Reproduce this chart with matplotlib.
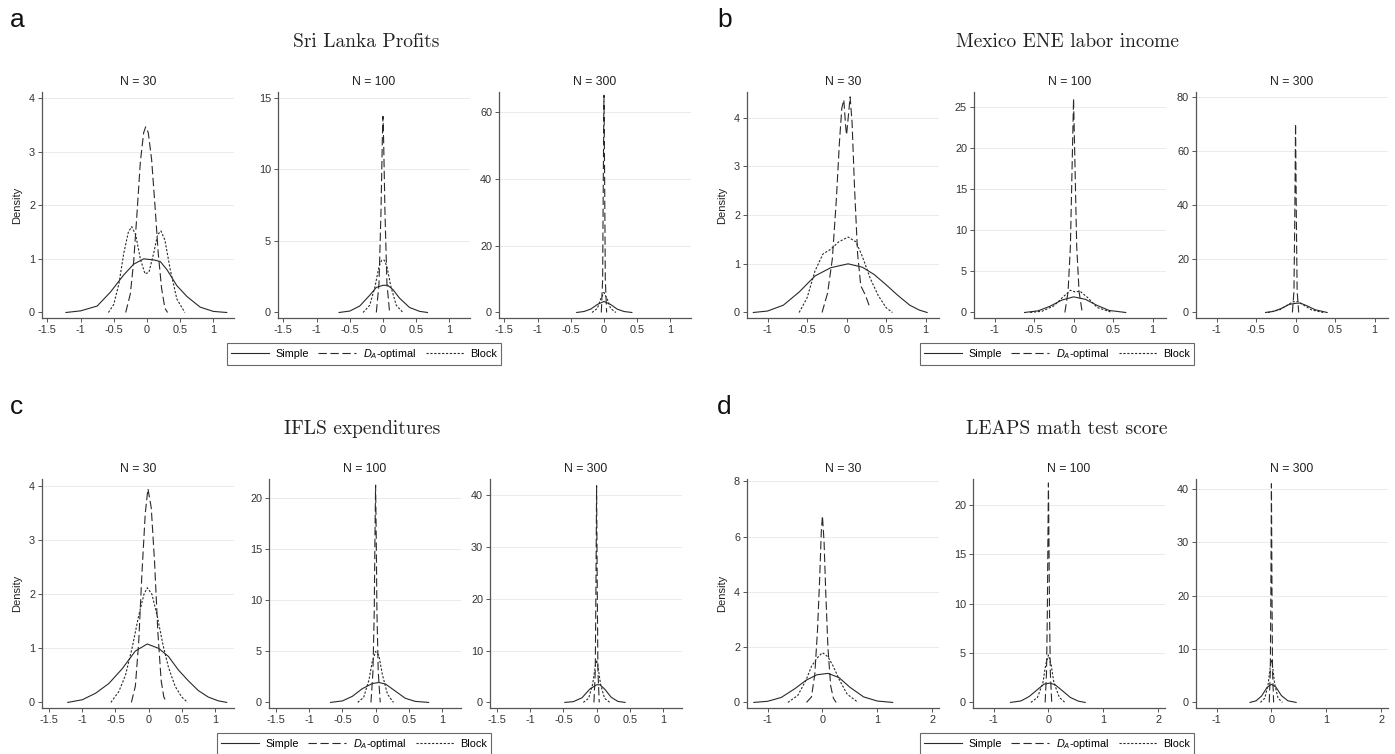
import matplotlib
matplotlib.use('Agg')
import matplotlib.pyplot as plt
from matplotlib.lines import Line2D
from matplotlib.ticker import FuncFormatter

plt.rcParams['font.family'] = ['Liberation Sans', 'DejaVu Sans']
plt.rcParams['mathtext.fontset'] = 'custom'
plt.rcParams['mathtext.it'] = 'Liberation Sans:italic'
plt.rcParams['mathtext.rm'] = 'Liberation Sans'
plt.rcParams['lines.scale_dashes'] = False

# ---- data (x = estimate error, y = density) ----
# a: Sri Lanka Profits
sri30_simple_x = [-1.22, -1.0, -0.75, -0.55, -0.35, -0.2, -0.05, 0.1, 0.2, 0.3, 0.45, 0.6, 0.8, 1.0, 1.2]
sri30_simple_y = [0, 0.03, 0.12, 0.38, 0.7, 0.9, 1.0, 0.98, 0.95, 0.8, 0.5, 0.3, 0.1, 0.02, 0]
sri30_da_x = [-0.32, -0.25, -0.2, -0.15, -0.1, -0.05, -0.02, 0.02, 0.07, 0.12, 0.17, 0.22, 0.27, 0.31]
sri30_da_y = [0, 0.35, 0.95, 1.85, 2.8, 3.35, 3.46, 3.35, 2.85, 2.0, 1.1, 0.45, 0.08, 0]
sri30_block_x = [-0.58, -0.5, -0.42, -0.35, -0.28, -0.23, -0.17, -0.1, -0.03, 0.03, 0.1, 0.16, 0.21, 0.27, 0.35, 0.45, 0.57]
sri30_block_y = [0, 0.15, 0.55, 1.1, 1.5, 1.6, 1.45, 1.0, 0.72, 0.75, 1.1, 1.45, 1.52, 1.35, 0.8, 0.25, 0]

sri100_simple_x = [-0.66, -0.5, -0.35, -0.2, -0.1, 0, 0.07, 0.15, 0.25, 0.4, 0.55, 0.67]
sri100_simple_y = [0, 0.1, 0.45, 1.2, 1.75, 1.9, 1.9, 1.6, 1.0, 0.35, 0.08, 0]
sri100_da_x = [-0.1, -0.06, -0.03, -0.01, 0.0, 0.01, 0.03, 0.06, 0.1]
sri100_da_y = [0, 2, 7, 12, 13.7, 12, 7, 2, 0]
sri100_block_x = [-0.3, -0.2, -0.12, -0.06, -0.02, 0.02, 0.06, 0.12, 0.2, 0.3]
sri100_block_y = [0, 0.5, 1.8, 3.2, 3.65, 3.65, 3.2, 1.8, 0.5, 0]

sri300_simple_x = [-0.41, -0.3, -0.2, -0.1, 0, 0.1, 0.2, 0.3, 0.42]
sri300_simple_y = [0, 0.3, 1.0, 2.4, 3.3, 2.4, 1.0, 0.3, 0]
sri300_da_x = [-0.04, -0.02, -0.01, 0, 0.01, 0.02, 0.04]
sri300_da_y = [0, 10, 40, 65, 40, 10, 0]
sri300_block_x = [-0.18, -0.1, -0.05, 0, 0.05, 0.1, 0.18]
sri300_block_y = [0, 1.2, 4, 6, 4, 1.2, 0]

# b: Mexico ENE labor income
mex30_simple_x = [-1.18, -1.0, -0.8, -0.6, -0.4, -0.2, 0.02, 0.2, 0.35, 0.5, 0.65, 0.8, 0.92, 1.02]
mex30_simple_y = [0, 0.03, 0.15, 0.42, 0.75, 0.92, 1.0, 0.93, 0.78, 0.57, 0.35, 0.15, 0.05, 0]
mex30_da_x = [-0.31, -0.24, -0.18, -0.13, -0.09, -0.06, -0.035, -0.01, 0.0, 0.015, 0.045, 0.07, 0.1, 0.14, 0.18, 0.24, 0.3]
mex30_da_y = [0, 0.4, 1.1, 2.3, 3.5, 4.2, 4.37, 3.8, 3.65, 3.9, 4.43, 3.9, 2.6, 1.2, 0.55, 0.35, 0.08]
mex30_block_x = [-0.6, -0.5, -0.4, -0.3, -0.2, -0.1, 0.02, 0.12, 0.2, 0.3, 0.4, 0.5, 0.58]
mex30_block_y = [0, 0.3, 0.85, 1.2, 1.3, 1.45, 1.55, 1.45, 1.15, 0.7, 0.35, 0.1, 0]

mex100_simple_x = [-0.62, -0.45, -0.3, -0.15, 0, 0.15, 0.3, 0.45, 0.66]
mex100_simple_y = [0, 0.2, 0.75, 1.5, 1.9, 1.6, 0.85, 0.25, 0]
mex100_da_x = [-0.11, -0.07, -0.04, -0.02, 0, 0.02, 0.04, 0.07, 0.11]
mex100_da_y = [0, 2.5, 8, 17, 26, 17, 8, 2.5, 0]
mex100_block_x = [-0.55, -0.4, -0.25, -0.12, -0.04, 0.02, 0.08, 0.18, 0.3, 0.49]
mex100_block_y = [0, 0.15, 0.8, 2.0, 2.7, 2.5, 2.6, 1.8, 0.6, 0]

mex300_simple_x = [-0.38, -0.28, -0.18, -0.08, 0, 0.06, 0.15, 0.25, 0.4]
mex300_simple_y = [0, 0.4, 1.5, 3.0, 3.4, 3.5, 2.4, 1.0, 0]
mex300_da_x = [-0.04, -0.02, -0.01, 0, 0.01, 0.02, 0.04]
mex300_da_y = [0, 8, 35, 70, 35, 8, 0]
mex300_block_x = [-0.35, -0.2, -0.1, -0.03, 0.03, 0.1, 0.2, 0.35]
mex300_block_y = [0, 1.0, 2.8, 4.0, 4.0, 2.8, 1.0, 0]

# c: IFLS expenditures
ifls30_simple_x = [-1.22, -1.0, -0.8, -0.6, -0.4, -0.2, -0.02, 0.15, 0.3, 0.45, 0.6, 0.75, 0.9, 1.05, 1.18]
ifls30_simple_y = [0, 0.05, 0.17, 0.35, 0.62, 0.95, 1.08, 1.0, 0.85, 0.6, 0.4, 0.22, 0.1, 0.03, 0]
ifls30_da_x = [-0.26, -0.2, -0.15, -0.1, -0.05, -0.01, 0.04, 0.09, 0.14, 0.19, 0.23, 0.27]
ifls30_da_y = [0, 0.3, 1.1, 2.4, 3.5, 3.95, 3.6, 2.6, 1.3, 0.4, 0.1, 0]
ifls30_block_x = [-0.57, -0.45, -0.35, -0.25, -0.15, -0.07, -0.02, 0.05, 0.13, 0.22, 0.3, 0.4, 0.5, 0.59]
ifls30_block_y = [0, 0.2, 0.5, 1.0, 1.6, 2.0, 2.12, 2.0, 1.6, 1.05, 0.65, 0.3, 0.1, 0]

ifls100_simple_x = [-0.68, -0.5, -0.35, -0.2, -0.05, 0.05, 0.15, 0.3, 0.45, 0.6, 0.8]
ifls100_simple_y = [0, 0.15, 0.6, 1.35, 1.85, 1.95, 1.8, 1.1, 0.4, 0.1, 0]
ifls100_da_x = [-0.07, -0.04, -0.02, -0.01, 0, 0.01, 0.02, 0.04, 0.07]
ifls100_da_y = [0, 3, 9, 16, 21.3, 16, 9, 3, 0]
ifls100_block_x = [-0.27, -0.18, -0.1, -0.05, 0.0, 0.05, 0.1, 0.18, 0.27]
ifls100_block_y = [0, 0.5, 2.2, 4.0, 5.0, 4.6, 2.8, 0.8, 0]

ifls300_simple_x = [-0.48, -0.35, -0.22, -0.1, 0, 0.05, 0.12, 0.22, 0.32, 0.43]
ifls300_simple_y = [0, 0.15, 0.9, 2.6, 3.4, 3.4, 2.6, 1.0, 0.2, 0]
ifls300_da_x = [-0.04, -0.02, -0.01, 0, 0.01, 0.02, 0.04]
ifls300_da_y = [0, 6, 22, 41.8, 22, 6, 0]
ifls300_block_x = [-0.2, -0.12, -0.06, -0.02, 0, 0.02, 0.06, 0.12, 0.2]
ifls300_block_y = [0, 0.8, 3.5, 7.0, 8.2, 7.0, 3.5, 0.8, 0]

# d: LEAPS math test score
leaps30_simple_x = [-1.25, -1.0, -0.75, -0.5, -0.3, -0.1, 0.1, 0.3, 0.5, 0.75, 1.0, 1.28]
leaps30_simple_y = [0, 0.04, 0.18, 0.5, 0.8, 1.0, 1.05, 0.9, 0.55, 0.2, 0.05, 0]
leaps30_da_x = [-0.29, -0.2, -0.14, -0.09, -0.05, -0.02, 0.0, 0.03, 0.06, 0.1, 0.15, 0.2, 0.25]
leaps30_da_y = [0, 0.2, 1.0, 2.6, 4.5, 6.2, 6.75, 5.8, 4.0, 2.0, 0.6, 0.15, 0]
leaps30_block_x = [-0.63, -0.45, -0.3, -0.2, -0.1, 0.0, 0.1, 0.2, 0.3, 0.45, 0.65]
leaps30_block_y = [0, 0.25, 0.8, 1.3, 1.6, 1.8, 1.65, 1.3, 0.85, 0.3, 0]

leaps100_simple_x = [-0.69, -0.5, -0.35, -0.2, -0.08, 0.02, 0.12, 0.25, 0.4, 0.55, 0.67]
leaps100_simple_y = [0, 0.15, 0.6, 1.3, 1.85, 1.95, 1.8, 1.2, 0.5, 0.12, 0]
leaps100_da_x = [-0.06, -0.035, -0.02, -0.01, 0, 0.01, 0.02, 0.035, 0.06]
leaps100_da_y = [0, 3, 9, 16, 22.2, 16, 9, 3, 0]
leaps100_block_x = [-0.32, -0.2, -0.1, -0.05, 0, 0.05, 0.1, 0.2, 0.3]
leaps100_block_y = [0, 0.5, 2.0, 3.8, 4.8, 3.8, 2.0, 0.5, 0]

leaps300_simple_x = [-0.39, -0.28, -0.18, -0.08, 0, 0.08, 0.18, 0.3, 0.45]
leaps300_simple_y = [0, 0.3, 1.2, 2.8, 3.4, 2.9, 1.3, 0.3, 0]
leaps300_da_x = [-0.04, -0.02, -0.01, 0, 0.01, 0.02, 0.04]
leaps300_da_y = [0, 6, 21, 41, 21, 6, 0]
leaps300_block_x = [-0.2, -0.12, -0.06, -0.02, 0, 0.02, 0.06, 0.12, 0.2]
leaps300_block_y = [0, 0.8, 3.4, 6.8, 8.0, 6.8, 3.4, 0.8, 0]

sample_sizes = [30, 100, 300]
methods = ['Simple', 'DA', 'Block']
method_labels = ['Simple', r'$D_A$-optimal', 'Block']

# panel letter, title, curves per N, x ticks, y ticks per N
panels = [
    ('a', 'Sri Lanka Profits',
     {30: [(sri30_simple_x, sri30_simple_y), (sri30_da_x, sri30_da_y), (sri30_block_x, sri30_block_y)],
      100: [(sri100_simple_x, sri100_simple_y), (sri100_da_x, sri100_da_y), (sri100_block_x, sri100_block_y)],
      300: [(sri300_simple_x, sri300_simple_y), (sri300_da_x, sri300_da_y), (sri300_block_x, sri300_block_y)]},
     [-1.5, -1, -0.5, 0, 0.5, 1],
     [[0, 1, 2, 3, 4], [0, 5, 10, 15], [0, 20, 40, 60]]),
    ('b', 'Mexico ENE labor income',
     {30: [(mex30_simple_x, mex30_simple_y), (mex30_da_x, mex30_da_y), (mex30_block_x, mex30_block_y)],
      100: [(mex100_simple_x, mex100_simple_y), (mex100_da_x, mex100_da_y), (mex100_block_x, mex100_block_y)],
      300: [(mex300_simple_x, mex300_simple_y), (mex300_da_x, mex300_da_y), (mex300_block_x, mex300_block_y)]},
     [-1, -0.5, 0, 0.5, 1],
     [[0, 1, 2, 3, 4], [0, 5, 10, 15, 20, 25], [0, 20, 40, 60, 80]]),
    ('c', 'IFLS expenditures',
     {30: [(ifls30_simple_x, ifls30_simple_y), (ifls30_da_x, ifls30_da_y), (ifls30_block_x, ifls30_block_y)],
      100: [(ifls100_simple_x, ifls100_simple_y), (ifls100_da_x, ifls100_da_y), (ifls100_block_x, ifls100_block_y)],
      300: [(ifls300_simple_x, ifls300_simple_y), (ifls300_da_x, ifls300_da_y), (ifls300_block_x, ifls300_block_y)]},
     [-1.5, -1, -0.5, 0, 0.5, 1],
     [[0, 1, 2, 3, 4], [0, 5, 10, 15, 20], [0, 10, 20, 30, 40]]),
    ('d', 'LEAPS math test score',
     {30: [(leaps30_simple_x, leaps30_simple_y), (leaps30_da_x, leaps30_da_y), (leaps30_block_x, leaps30_block_y)],
      100: [(leaps100_simple_x, leaps100_simple_y), (leaps100_da_x, leaps100_da_y), (leaps100_block_x, leaps100_block_y)],
      300: [(leaps300_simple_x, leaps300_simple_y), (leaps300_da_x, leaps300_da_y), (leaps300_block_x, leaps300_block_y)]},
     [-1, 0, 1, 2],
     [[0, 2, 4, 6, 8], [0, 5, 10, 15, 20], [0, 10, 20, 30, 40]]),
]

# ---- layout (pixels in a 1395x754 canvas) ----
W, H = 1395, 754
axes_left = {'a': [42, 278, 499], 'b': [747, 974, 1196],
             'c': [42, 269, 490], 'd': [747, 973, 1196]}
axes_width = 192
row_top = {'a': 92, 'b': 92, 'c': 479, 'd': 479}
row_bottom = {'a': 318, 'b': 318, 'c': 708, 'd': 708}
xlims = {'a': (-1.58, 1.31), 'b': (-1.26, 1.17), 'c': (-1.61, 1.29), 'd': (-1.375, 2.125)}
ytops = {'a': [4.11, 15.4, 66], 'b': [4.53, 26.8, 81.8], 'c': [4.13, 21.9, 43.1], 'd': [8.08, 22.6, 41.9]}
centers = {'a': 366, 'b': 1067, 'c': 362, 'd': 1067}
legend_x = {'a': 364, 'b': 1057, 'c': 354, 'd': 1057}

line_col = '#2a2a2a'
axis_col = '#555555'
styles = {'Simple': '-', 'DA': (0, (6, 2.6)), 'Block': (0, (1.6, 1.2))}

fig = plt.figure(figsize=(W / 100, H / 100), dpi=100)
fmt = FuncFormatter(lambda v, p: ('%g' % v))

for letter, title, curves, xticks, yticks_list in panels:
    top, bottom = row_top[letter], row_bottom[letter]
    for i, n in enumerate(sample_sizes):
        left = axes_left[letter][i]
        ax = fig.add_axes([left / W, 1 - bottom / H, axes_width / W, (bottom - top) / H])
        for m, (xs, ys) in zip(methods, curves[n]):
            ax.plot(xs, ys, color=line_col, lw=0.8, linestyle=styles[m])
        ytop = ytops[letter][i]
        ax.set_ylim(-0.025 * ytop, ytop)
        ax.set_xlim(*xlims[letter])
        ax.set_xticks(xticks)
        ax.set_yticks(yticks_list[i])
        ax.xaxis.set_major_formatter(fmt)
        ax.yaxis.set_major_formatter(fmt)
        for yt in yticks_list[i][1:]:
            ax.axhline(yt, color='#ebebeb', lw=0.7, zorder=0)
        for s in ['top', 'right']:
            ax.spines[s].set_visible(False)
        for s in ['left', 'bottom']:
            ax.spines[s].set_color(axis_col)
            ax.spines[s].set_linewidth(0.9)
        ax.tick_params(length=3, width=0.7, color=axis_col, labelsize=7.8,
                       labelcolor='#333333', pad=2)
        ax.set_title('N = %d' % n, fontsize=8.8, color='#222222', pad=5)
        if i == 0:
            ax.set_ylabel('Density', fontsize=8, color='#222222', labelpad=5)

    fig.text(centers[letter] / W, 1 - (top - 50) / H, title, fontfamily='cmr10',
             fontsize=14, ha='center', va='center', color='#222222')
    fig.text((10 if letter in 'ac' else 717) / W, 1 - (top - 72) / H, letter,
             fontsize=19, ha='left', va='center', color='#111111')

    handles = [Line2D([0], [0], color=line_col, lw=0.8, linestyle=styles[m]) for m in methods]
    leg = fig.legend(handles, method_labels, loc='center', ncol=3,
                     bbox_to_anchor=(legend_x[letter] / W, 1 - (bottom + 36) / H),
                     fontsize=7.8, frameon=True, fancybox=False, handlelength=3.5,
                     handletextpad=0.6, columnspacing=0.9, borderpad=0.35)
    leg.get_frame().set_edgecolor('#444444')
    leg.get_frame().set_linewidth(0.8)

fig.savefig('out.png', dpi=100, facecolor='white')
